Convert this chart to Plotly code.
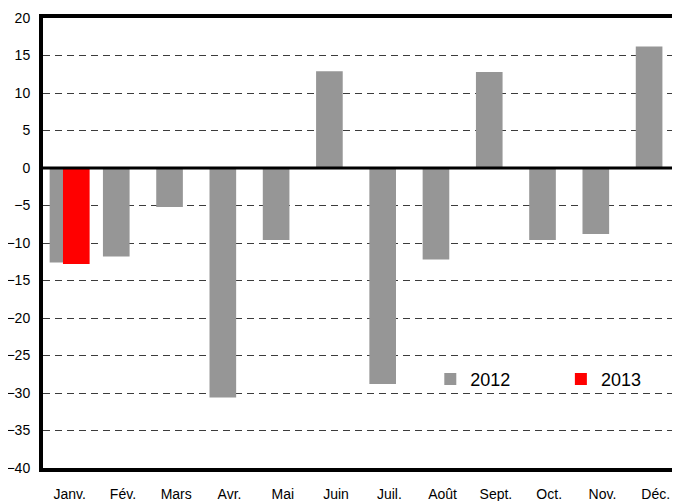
import plotly.graph_objects as go

months = ["Janv.", "Fév.", "Mars", "Avr.", "Mai", "Juin", "Juil.", "Août", "Sept.", "Oct.", "Nov.", "Déc."]
values_2012 = [-12.6, -11.8, -5.2, -30.6, -9.6, 12.9, -28.8, -12.2, 12.8, -9.6, -8.8, 16.2]
months_2013 = ["Janv."]
values_2013 = [-12.8]
y_ticks = list(range(-40, 25, 5))

fig = go.Figure()
fig.add_trace(go.Bar(x=months, y=values_2012, name="2012", marker_color="#969696",
                     marker_line_width=0, width=0.5, offset=-0.375, legend="legend"))
fig.add_trace(go.Bar(x=months_2013, y=values_2013, name="2013", marker_color="#FF0000",
                     marker_line_width=0, width=0.5, offset=-0.125, legend="legend2"))

font = "Liberation Sans, Arial, sans-serif"
leg_common = dict(orientation="h", yanchor="middle", xanchor="left", itemwidth=30,
                  bgcolor="rgba(0,0,0,0)", font=dict(size=18, family=font))
fig.update_layout(
    width=672, height=493,
    margin=dict(l=35, r=0, t=10, b=33),
    plot_bgcolor="white", paper_bgcolor="white",
    barmode="overlay",
    font=dict(family=font, size=14, color="black"),
    showlegend=True,
    legend=dict(x=0.608, y=0.197, **leg_common),
    legend2=dict(x=0.813, y=0.197, **leg_common),
    xaxis=dict(categoryorder="array", categoryarray=months, range=[-0.5, 11.455],
               showline=True, linecolor="black", linewidth=4, mirror=True,
               showgrid=False, ticks="", ticklabelstandoff=10, automargin=False,
               tickfont=dict(size=14)),
    yaxis=dict(range=[-40, 20], tickvals=y_ticks, showline=True, linecolor="black",
               linewidth=4, mirror=False, showgrid=True, gridcolor="#3c3c3c", gridwidth=1,
               griddash="7px,5px", zeroline=False, ticks="", ticklabelstandoff=6,
               automargin=False, tickfont=dict(size=14)),
    shapes=[
        dict(type="rect", xref="paper", yref="paper", x0=0.582, x1=0.989, y0=0.15, y1=0.272,
             fillcolor="white", line_width=0, layer="between"),
        dict(type="line", xref="paper", yref="y", x0=0, x1=1, y0=0, y1=0,
             line=dict(color="black", width=3), layer="above"),
    ],
)

fig.write_html("out.html")
